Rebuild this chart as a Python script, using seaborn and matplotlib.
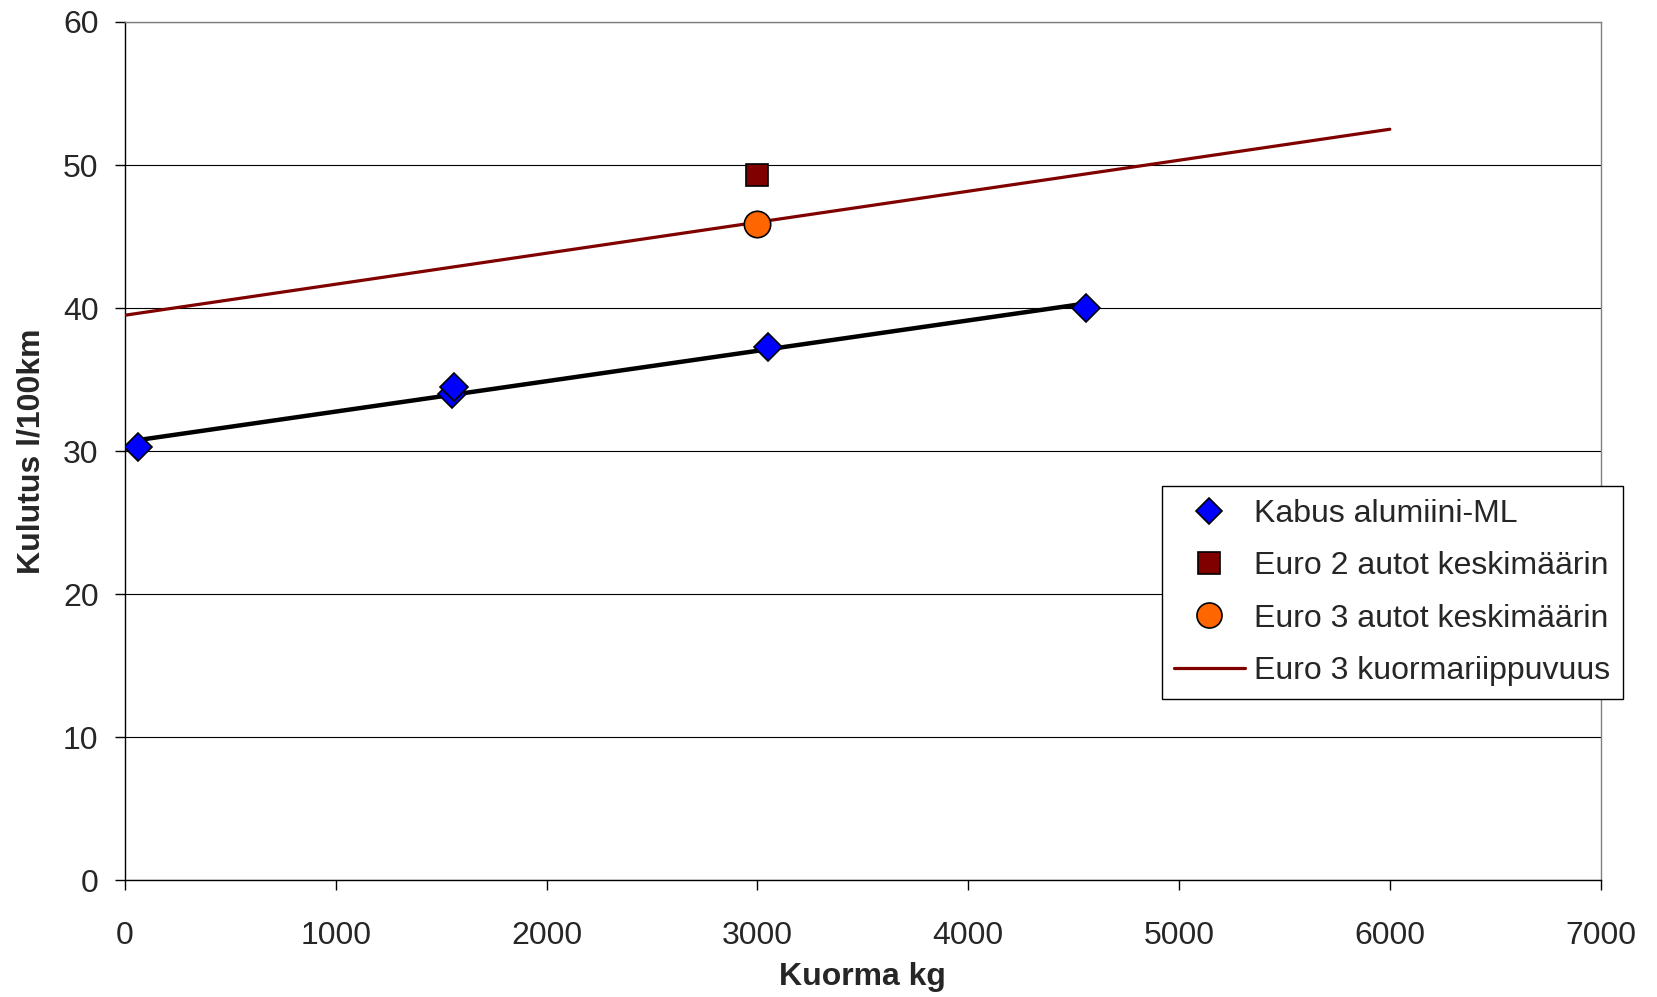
import numpy as np
import pandas as pd
import matplotlib
matplotlib.use("Agg")
import matplotlib.pyplot as plt
import seaborn as sns

# Kabus alumiini-ML measurements
kabus_load = [60, 1550, 1560, 3050, 4560]
kabus_cons = [30.3, 34.0, 34.5, 37.3, 40.0]

# fleet averages at 3000 kg
euro2_load = [3000]
euro2_cons = [49.3]
euro3_load = [3000]
euro3_cons = [45.9]

# Euro 3 load dependency line
dep_load = [0, 6000]
dep_cons = [39.5, 52.5]

sns.set_theme(style="white")
plt.rcParams['font.family'] = ['Liberation Sans', 'DejaVu Sans']

fig = plt.figure(figsize=(16.57, 9.97), dpi=100)
ax = fig.add_axes([0.0754, 0.117, 0.8906, 0.861])

# linear fit through the Kabus points
slope, icpt = np.polyfit(kabus_load, kabus_cons, 1)
fit_x = [min(kabus_load), max(kabus_load)]
fit_df = pd.DataFrame({"x": fit_x, "y": [icpt + slope * v for v in fit_x]})
sns.lineplot(data=fit_df, x="x", y="y", ax=ax, color="black", linewidth=3.2, zorder=3)

dep_df = pd.DataFrame({"x": dep_load, "y": dep_cons})
sns.lineplot(data=dep_df, x="x", y="y", ax=ax, color="#800000", linewidth=2.3, zorder=3,
             label="Euro 3 kuormariippuvuus")

ax.plot(kabus_load, kabus_cons, linestyle="none", marker="D", markersize=14,
        markerfacecolor="#0000ff", markeredgecolor="black", markeredgewidth=1.2, zorder=4,
        label="Kabus alumiini-ML")
ax.plot(euro2_load, euro2_cons, linestyle="none", marker="s", markersize=16,
        markerfacecolor="#800000", markeredgecolor="black", markeredgewidth=1.2, zorder=4,
        label="Euro 2 autot keskimäärin")
ax.plot(euro3_load, euro3_cons, linestyle="none", marker="o", markersize=19,
        markerfacecolor="#ff6600", markeredgecolor="black", markeredgewidth=1.2, zorder=4,
        label="Euro 3 autot keskimäärin")

ax.set_xlim(0, 7000)
ax.set_ylim(0, 60)
ax.set_xticks(range(0, 7001, 1000))
ax.set_yticks(range(0, 61, 10))
ax.yaxis.grid(True, color="black", linewidth=0.8)
ax.set_axisbelow(True)
ax.tick_params(axis="both", which="major", labelsize=23, direction="out",
               length=7, width=1, color="black", left=True, bottom=True)
ax.tick_params(axis="x", pad=22)
ax.tick_params(axis="y", pad=12)
for side in ["left", "bottom"]:
    ax.spines[side].set_color("black")
    ax.spines[side].set_linewidth(1)
for side in ["top", "right"]:
    ax.spines[side].set_color("#808080")
    ax.spines[side].set_linewidth(1)

ax.set_xlabel("Kuorma kg", fontsize=23, fontweight="bold", labelpad=8)
ax.set_ylabel("Kulutus l/100km", fontsize=23, fontweight="bold", labelpad=12)

handles, labels = ax.get_legend_handles_labels()
order = ["Kabus alumiini-ML", "Euro 2 autot keskimäärin",
         "Euro 3 autot keskimäärin", "Euro 3 kuormariippuvuus"]
hl = dict(zip(labels, handles))
leg = ax.legend([hl[k] for k in order], order, loc="upper left",
                bbox_to_anchor=(0.701, 0.5125), bbox_transform=fig.transFigure,
                fontsize=23, frameon=True, fancybox=False, framealpha=1,
                edgecolor="black", borderpad=0.4, labelspacing=0.7,
                handlelength=2.2, handletextpad=0.3, borderaxespad=0,
                markerscale=0.95)
leg.get_frame().set_linewidth(1)

fig.savefig("out.png", dpi=100)
